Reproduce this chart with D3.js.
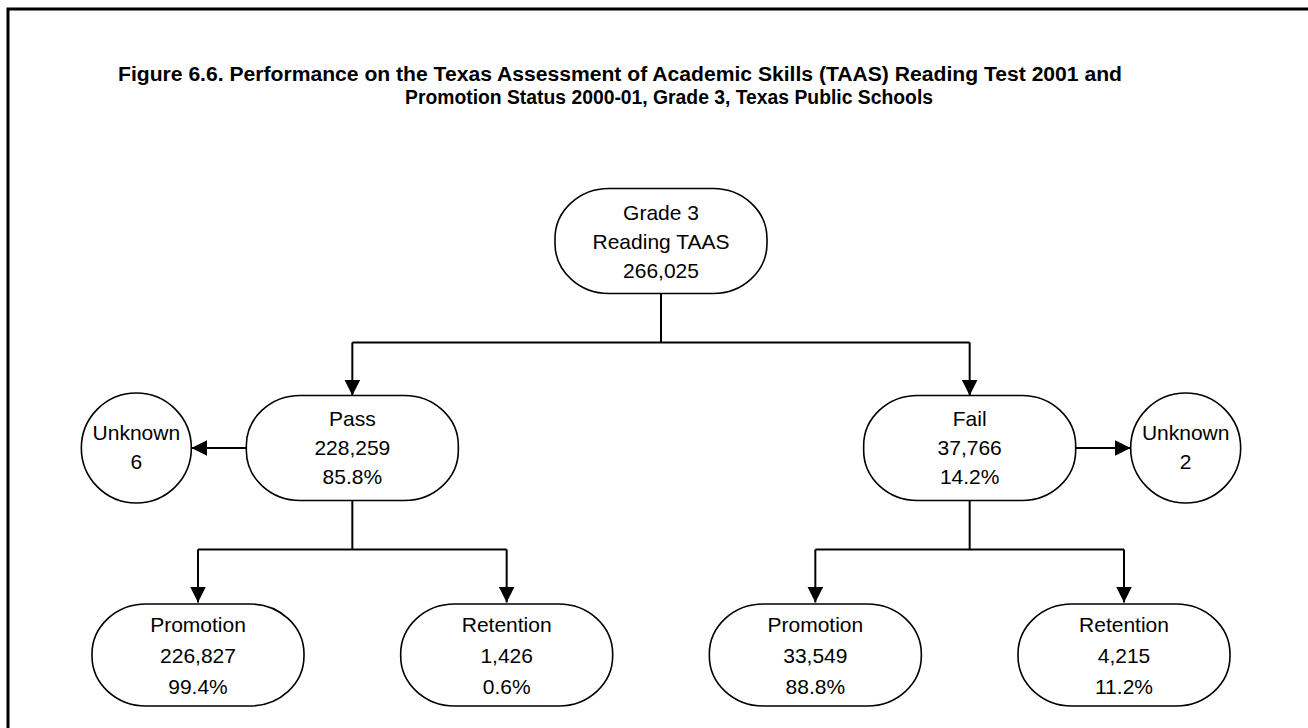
<!DOCTYPE html>
<html>
<head>
    <meta charset="UTF-8">
    <title>Figure 6.6</title>
    <script src="https://cdn.jsdelivr.net/npm/d3@7/dist/d3.min.js"></script>
    <style>
        body{
            padding: 0;
            margin: 0;
            background: #fff;
        }
        .node text{
            font-family: "Liberation Sans", Arial, sans-serif;
            font-size: 21px;
            fill: #000;
        }
        .title{
            font-family: "Liberation Sans Narrow", "Arial Narrow", "Liberation Sans", sans-serif;
            font-weight: bold;
            font-size: 20px;
        }
    </style>
</head>
<body>
<div class="first"></div>

<script>

    // data
    var titleLines = [
        "Figure 6.6. Performance on the Texas Assessment of Academic Skills (TAAS) Reading Test 2001 and",
        "Promotion Status 2000-01, Grade 3, Texas Public Schools"
    ];
    var rootLabel = ["Grade 3", "Reading TAAS"];
    var total = 266025;
    var outcomes = ["Pass", "Fail"];
    var outcomeCounts = [228259, 37766];
    var outcomePcts = [85.8, 14.2];
    var unknownCounts = [6, 2];
    var decisions = ["Promotion", "Retention"];
    var decisionCounts = [[226827, 1426], [33549, 4215]];
    var decisionPcts = [[99.4, 0.6], [88.8, 11.2]];

    var width = 1308, height = 728;
    var boxW = 212, boxH = 105, rUnknown = 55;
    var fmt = d3.format(","), pct = function(v){ return d3.format(".1f")(v) + "%"; };

    var svg = d3.select(".first")
        .append("svg")
        .attr("width", width)
        .attr("height", height);

    // frame (scan shows top and left edges only)
    svg.append("path")
        .attr("d", "M8," + height + "V9H" + width)
        .attr("fill", "none")
        .attr("stroke", "#000")
        .attr("stroke-width", 3);

    svg.selectAll(".title")
        .data(titleLines)
        .enter()
        .append("text")
        .attr("class", "title")
        .attr("x", function(d, i){ return i === 0 ? 118 : 405; })
        .attr("y", function(d, i){ return 81 + i * 23; })
        .attr("textLength", function(d, i){ return i === 0 ? 1004 : 528; })
        .attr("lengthAdjust", "spacingAndGlyphs")
        .text(function(d){ return d; });

    // build the tree from the arrays
    var treeData = {
        lines: rootLabel.concat([fmt(total)]),
        children: outcomes.map(function(o, i){
            return {
                lines: [o, fmt(outcomeCounts[i]), pct(outcomePcts[i])],
                unknown: unknownCounts[i],
                side: i === 0 ? -1 : 1,
                children: decisions.map(function(dd, j){
                    return {lines: [dd, fmt(decisionCounts[i][j]), pct(decisionPcts[i][j])]};
                })
            };
        })
    };

    var root = d3.hierarchy(treeData);
    d3.tree().nodeSize([1, 1]).separation(function(){ return 1; })(root);

    var x = d3.scaleLinear().domain([-1.5, 1.5]).range([198, 1124]);
    var y = d3.scaleLinear().domain([0, 2]).range([241, 655]);

    var defs = svg.append("defs");
    defs.append("marker")
        .attr("id", "arrow")
        .attr("markerUnits", "userSpaceOnUse")
        .attr("viewBox", "0 0 16 16")
        .attr("refX", 16)
        .attr("refY", 8)
        .attr("markerWidth", 16)
        .attr("markerHeight", 16)
        .attr("orient", "auto")
        .append("path")
        .attr("d", "M0,0L16,8L0,16Z")
        .attr("fill", "#000");

    var links = svg.append("g")
        .attr("fill", "none")
        .attr("stroke", "#000")
        .attr("stroke-width", 2);

    root.each(function(n){
        if (!n.children) return;
        var px = x(n.x), bottom = y(n.depth) + boxH / 2;
        var top = y(n.depth + 1) - boxH / 2;
        var mid = (bottom + top) / 2 - 2;
        links.append("path").attr("d", "M" + px + "," + bottom + "V" + mid);
        var xs = n.children.map(function(c){ return x(c.x); });
        links.append("path").attr("d", "M" + d3.min(xs) + "," + mid + "H" + d3.max(xs));
        n.children.forEach(function(c){
            links.append("path")
                .attr("d", "M" + x(c.x) + "," + mid + "V" + top)
                .attr("marker-end", "url(#arrow)");
        });
    });

    // boxes
    var node = svg.selectAll(".node")
        .data(root.descendants())
        .enter()
        .append("g")
        .attr("class", "node")
        .attr("transform", function(d){ return "translate(" + x(d.x) + "," + y(d.depth) + ")"; });

    node.append("rect")
        .attr("x", -boxW / 2)
        .attr("y", function(d){ return d.depth === 2 ? -51 : -boxH / 2; })
        .attr("width", boxW)
        .attr("height", function(d){ return d.depth === 2 ? 102 : boxH; })
        .attr("rx", 54)
        .attr("ry", 50)
        .attr("fill", "#fff")
        .attr("stroke", "#000")
        .attr("stroke-width", 1.6);

    node.selectAll(".line")
        .data(function(d){ return d.data.lines.map(function(t, i){ return {t: t, i: i, depth: d.depth}; }); })
        .enter()
        .append("text")
        .attr("class", "line")
        .attr("text-anchor", "middle")
        .attr("y", function(d){ var s = d.depth === 2 ? 31 : 29; return (d.i - 1) * s + 8 - (d.depth === 1 ? 1 : 0); })
        .text(function(d){ return d.t; });

    // unknown circles beside pass / fail
    var side = node.filter(function(d){ return d.depth === 1; });

    side.append("path")
        .attr("d", function(d){
            var s = d.data.side;
            return "M" + (s * boxW / 2) + ",0H" + (s * (boxW / 2 + 55));
        })
        .attr("stroke", "#000")
        .attr("stroke-width", 2)
        .attr("marker-end", "url(#arrow)");

    var unk = side.append("g")
        .attr("transform", function(d){ return "translate(" + d.data.side * (boxW / 2 + 55 + rUnknown) + ",0)"; });

    unk.append("circle")
        .attr("r", rUnknown)
        .attr("fill", "#fff")
        .attr("stroke", "#000")
        .attr("stroke-width", 1.6);

    unk.selectAll("text")
        .data(function(d){ return ["Unknown", fmt(d.data.unknown)]; })
        .enter()
        .append("text")
        .attr("text-anchor", "middle")
        .attr("y", function(d, i){ return (i - 0.5) * 29 + 6; })
        .text(function(d){ return d; });

</script>
</body>
</html>
